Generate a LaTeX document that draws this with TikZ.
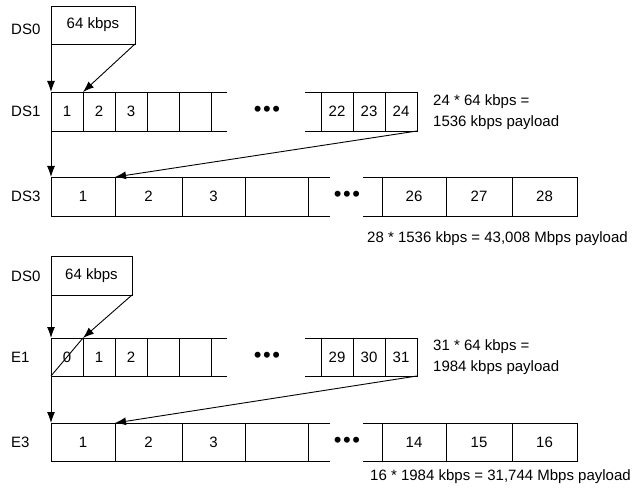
\documentclass[tikz,border=0pt]{standalone}
\usepackage{fontspec}
\setmainfont{Liberation Sans}
\usetikzlibrary{arrows.meta}
\begin{document}
\begin{tikzpicture}[x=1pt,y=-1pt,
  ln/.style={line width=0.9pt, black},
  txt/.style={font=\fontsize{15}{21}\selectfont},
  cell/.style={draw, line width=0.9pt, minimum height=39pt, inner sep=0pt, outer sep=0pt, anchor=north west, txt},
  boxnode/.style={draw, line width=0.9pt, inner sep=0pt, outer sep=0pt, anchor=north west, txt},
  rowlbl/.style={anchor=west, inner sep=0pt, txt},
  note/.style={anchor=west, inner sep=0pt, align=left, txt},
  dots/.style={inner sep=0pt, font=\fontsize{22}{22}\selectfont},
  arr/.style={line width=0.9pt, -{Latex[length=11pt,width=8pt]}}
]
\useasboundingbox (0,0) rectangle (632,492);

% ---------- upper half: DS0 / DS1 / DS3 ----------
\node[rowlbl] (lds0a) at (11,29) {DS0};
\node[rowlbl] (lds1) at (11,111.5) {DS1};
\node[rowlbl] (lds3) at (11,196.5) {DS3};

\node[boxnode, minimum width=84pt, minimum height=38pt] (ds0a) at (51,6) {64 kbps};

\foreach \x/\t/\n in {51/1/a,83/2/b,115/3/c,147//d,179//e}
  \node[cell, minimum width=32pt] (ds1\n) at (\x,92) {\t};
\foreach \x/\t/\n in {321/22/x,353/23/y,385/24/z}
  \node[cell, minimum width=32pt] (ds1\n) at (\x,92) {\t};
\draw[ln] (ds1e.north east) -- ++(16,0);
\draw[ln] (ds1e.south east) -- ++(16,0);
\draw[ln] (ds1x.north west) -- ++(-16,0);
\draw[ln] (ds1x.south west) -- ++(-16,0);
\node[dots] (dot1) at (267,111.5) {•\hspace{1.5pt}•\hspace{1.5pt}•};

\node[cell, minimum width=64pt] (ds3a) at (51,177) {1};
\node[cell, minimum width=67pt] (ds3b) at (115,177) {2};
\node[cell, minimum width=63pt] (ds3c) at (182,177) {3};
\node[cell, minimum width=63pt] (ds3d) at (245,177) {};
\node[cell, minimum width=64pt] (ds3x) at (382,177) {26};
\node[cell, minimum width=66pt] (ds3y) at (446,177) {27};
\node[cell, minimum width=65pt] (ds3z) at (512,177) {28};
\draw[ln] (ds3d.north east) -- ++(22,0);
\draw[ln] (ds3d.south east) -- ++(22,0);
\draw[ln] (ds3x.north west) -- ++(-19,0);
\draw[ln] (ds3x.south west) -- ++(-19,0);
\node[dots] (dot2) at (347,196.5) {•\hspace{1.5pt}•\hspace{1.5pt}•};

\node[note] (n1) at (433,112) {24 * 64 kbps =\\1536 kbps payload};
\node[note] (n2) at (367,239) {28 * 1536 kbps = 43,008 Mbps payload};

\draw[arr] (ds0a.south west) -- (ds1a.north west);
\draw[arr] (ds0a.south east) -- (ds1b.north west);
\draw[arr] (ds1a.south west) -- (ds3a.north west);
\draw[arr] (ds1z.south east) -- (ds3b.north west);

% ---------- lower half: DS0 / E1 / E3 ----------
\node[rowlbl] (lds0b) at (11,276) {DS0};
\node[rowlbl] (le1) at (11,357) {E1};
\node[rowlbl] (le3) at (11,442) {E3};

\node[boxnode, minimum width=81pt, minimum height=39pt] (ds0b) at (51,256) {64 kbps};

\foreach \x/\t/\n in {51/0/a,83/1/b,115/2/c,147//d,179//e}
  \node[cell, minimum width=32pt, minimum height=38pt] (e1\n) at (\x,338) {\t};
\foreach \x/\t/\n in {321/29/x,353/30/y,385/31/z}
  \node[cell, minimum width=32pt, minimum height=38pt] (e1\n) at (\x,338) {\t};
\draw[ln] (e1e.north east) -- ++(16,0);
\draw[ln] (e1e.south east) -- ++(16,0);
\draw[ln] (e1x.north west) -- ++(-16,0);
\draw[ln] (e1x.south west) -- ++(-16,0);
\node[dots] (dot3) at (267,357) {•\hspace{1.5pt}•\hspace{1.5pt}•};

\node[cell, minimum width=64pt, minimum height=38pt] (e3a) at (51,423) {1};
\node[cell, minimum width=67pt, minimum height=38pt] (e3b) at (115,423) {2};
\node[cell, minimum width=63pt, minimum height=38pt] (e3c) at (182,423) {3};
\node[cell, minimum width=63pt, minimum height=38pt] (e3d) at (245,423) {};
\node[cell, minimum width=64pt, minimum height=38pt] (e3x) at (382,423) {14};
\node[cell, minimum width=66pt, minimum height=38pt] (e3y) at (446,423) {15};
\node[cell, minimum width=65pt, minimum height=38pt] (e3z) at (512,423) {16};
\draw[ln] (e3d.north east) -- ++(22,0);
\draw[ln] (e3d.south east) -- ++(22,0);
\draw[ln] (e3x.north west) -- ++(-19,0);
\draw[ln] (e3x.south west) -- ++(-19,0);
\node[dots] (dot4) at (347,442) {•\hspace{1.5pt}•\hspace{1.5pt}•};

\node[note] (n3) at (433,357) {31 * 64 kbps =\\1984 kbps payload};
\node[note] (n4) at (370,477) {16 * 1984 kbps = 31,744 Mbps payload};

\draw[arr] (ds0b.south west) -- (e1a.north west);
\draw[arr] (ds0b.south east) -- (e1b.north west);
\draw[ln] (e1a.south west) -- (e1b.north west);
\draw[arr] (e1a.south west) -- (e3a.north west);
\draw[arr] (e1z.south east) -- (e3b.north west);
\end{tikzpicture}
\end{document}
